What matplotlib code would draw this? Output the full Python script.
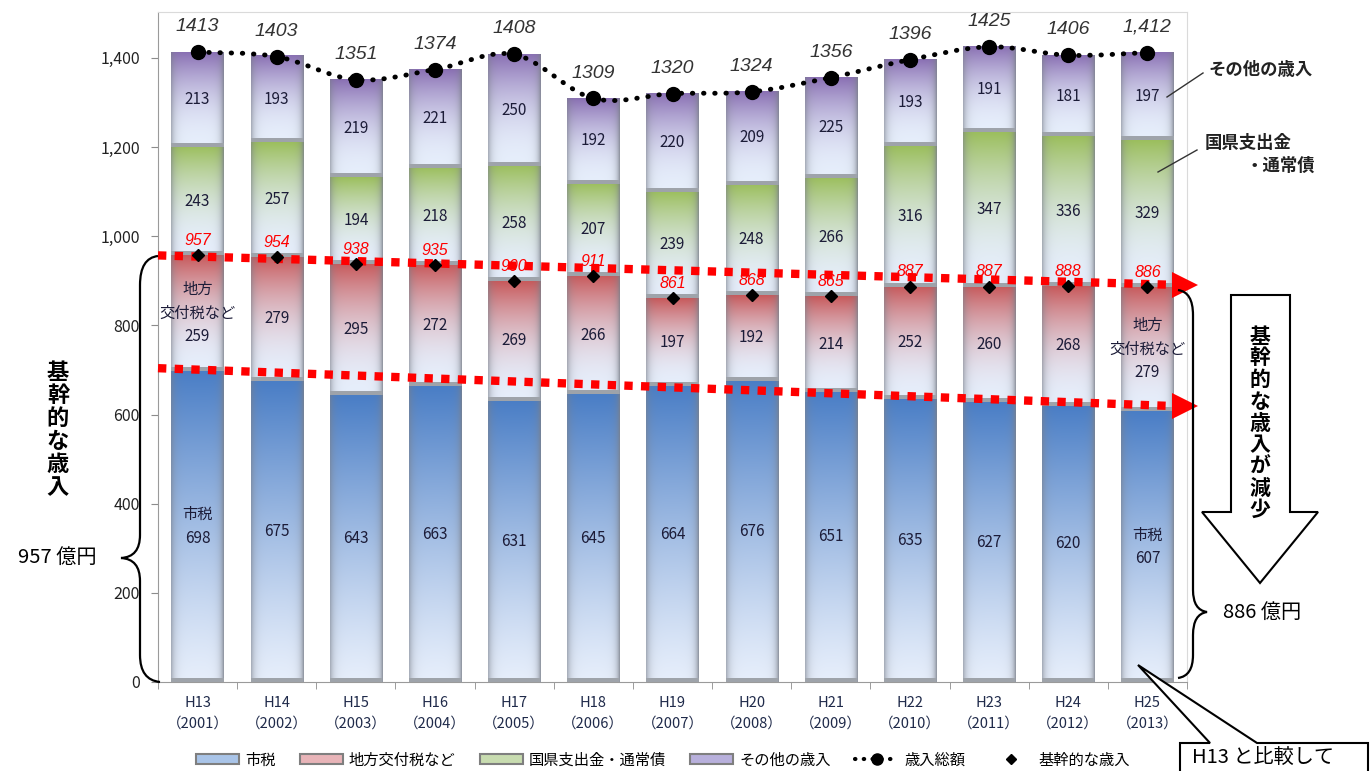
import numpy as np
import matplotlib
matplotlib.use('Agg')
import matplotlib.pyplot as plt
from matplotlib.path import Path
from matplotlib.patches import PathPatch, Polygon, Patch
from matplotlib.lines import Line2D
from matplotlib.colors import to_rgb

plt.rcParams['font.family'] = ['Noto Sans CJK JP', 'DejaVu Sans']

# 歳入の内訳（億円）
years = ['H13\n（2001）', 'H14\n（2002）', 'H15\n（2003）', 'H16\n（2004）', 'H17\n（2005）',
         'H18\n（2006）', 'H19\n（2007）', 'H20\n（2008）', 'H21\n（2009）', 'H22\n（2010）',
         'H23\n（2011）', 'H24\n（2012）', 'H25\n（2013）']
city_tax = [698, 675, 643, 663, 631, 645, 664, 676, 651, 635, 627, 620, 607]
local_alloc = [259, 279, 295, 272, 269, 266, 197, 192, 214, 252, 260, 268, 279]
subsidy_bonds = [243, 257, 194, 218, 258, 207, 239, 248, 266, 316, 347, 336, 329]
other_rev = [213, 193, 219, 221, 250, 192, 220, 209, 225, 193, 191, 181, 197]
total = [1413, 1403, 1351, 1374, 1408, 1309, 1320, 1324, 1356, 1396, 1425, 1406, 1412]
total_labels = ['1413', '1403', '1351', '1374', '1408', '1309', '1320', '1324', '1356',
                '1396', '1425', '1406', '1,412']
core = [957, 954, 938, 935, 900, 911, 861, 868, 865, 887, 887, 888, 886]

series = [city_tax, local_alloc, subsidy_bonds, other_rev]
top_colors = ['#4a7ec6', '#c85a5c', '#9cbf5e', '#8a70b4']
legend_colors = ['#a9c4e8', '#e8b4b8', '#c8dcb0', '#b8b0dc']
names = ['市税', '地方交付税など', '国県支出金・通常債', 'その他の歳入']

W, H = 1371, 771
fig = plt.figure(figsize=(W / 100, H / 100), dpi=100)
ax = fig.add_axes([158 / W, 1 - 682 / H, 1029 / W, 670 / H])


def fx(x):
    return x / W


def fy(y):
    return 1 - y / H


def seg_image(color, power):
    c = np.array(to_rgb(color))
    pale = np.array(to_rgb('#e6eefb'))
    t = np.linspace(0, 1, 90)[:, None, None]
    col = pale + (c - pale) * t ** power
    u = np.linspace(0, 1, 48)
    edge = 0.55 * np.exp(-u / 0.07) + 0.75 * np.exp(-(1 - u) / 0.06)
    edge = np.clip(edge, 0, 1)[None, :, None]
    grey = np.array([0.48, 0.50, 0.54])
    return col * (1 - edge) + grey * edge


x = np.arange(len(years))
bw = 0.66
bottom = np.zeros(len(years))
for k, (vals, c) in enumerate(zip(series, top_colors)):
    img = seg_image(c, 1.2 if k == 0 else 2.0)
    for i, v in enumerate(vals):
        b = bottom[i]
        ax.imshow(img, extent=[i - bw / 2, i + bw / 2, b, b + v], aspect='auto',
                  origin='lower', interpolation='bilinear', zorder=2)
        # bevel band at the foot of each segment
        ax.bar(i, 9, bottom=b, width=bw, color='#9ea3aa', zorder=3)
        mid = b + v / 2
        if k == 0 and i in (0, 12):
            txt = '市税\n' + str(v)
        elif k == 1 and i in (0, 12):
            txt = '地方\n交付税など\n' + str(v)
        else:
            txt = str(v)
        ax.text(i, mid, txt, ha='center', va='center', fontsize=11,
                color='#1c1c38', zorder=7, linespacing=1.5)
    bottom += np.array(vals)

# 基幹的な歳入の推移を示す赤い点線
for y0, y1 in [(core[0], core[-1] + 5), (city_tax[0] + 6, city_tax[-1] + 12)]:
    ax.plot([-0.5, 12.33], [y0, y1], color='#ff0000', lw=6, linestyle=(0, (1, 1)),
            zorder=4, clip_on=False)
    ax.plot([12.47], [y1 + (y1 - y0) * 0.01], marker='>', color='#ff0000', ms=19,
            mew=0, zorder=4, clip_on=False)

# 歳入総額：なめらかな点線
pts = np.column_stack([x, total]).astype(float)
verts = [tuple(pts[0])]
codes = [Path.MOVETO]
for i in range(len(pts) - 1):
    p0 = pts[max(i - 1, 0)]
    p1 = pts[i]
    p2 = pts[i + 1]
    p3 = pts[min(i + 2, len(pts) - 1)]
    verts += [tuple(p1 + (p2 - p0) / 6), tuple(p2 - (p3 - p1) / 6), tuple(p2)]
    codes += [Path.CURVE4] * 3
curve = PathPatch(Path(verts, codes), fill=False, edgecolor='black', lw=3.5,
                  linestyle=(0, (0.1, 2.2)), capstyle='round', zorder=5)
ax.add_patch(curve)
ax.plot(x, total, 'o', color='black', ms=10, zorder=6)
for i, (v, lab) in enumerate(zip(total, total_labels)):
    ax.text(i, v + 57, lab, ha='center', va='center', fontsize=14, style='italic',
            family='Liberation Sans', color='#333333', zorder=7)

ax.plot(x, core, 'D', color='black', ms=6, zorder=6)
for i, v in enumerate(core):
    ax.text(i, v + 33, str(v), ha='center', va='center', fontsize=11.5, style='italic',
            family='Liberation Sans', color='#ff0000', zorder=7)

ax.set_xlim(-0.5, 12.5)
ax.set_ylim(0, 1503)
ax.set_xticks(x)
ax.set_xticklabels(years, fontsize=10.5, color='#1f2a4a', linespacing=1.6)
ax.set_xticks(np.arange(-0.5, 13, 1), minor=True)
ax.tick_params(axis='x', which='major', length=0, pad=10)
ax.tick_params(axis='x', which='minor', length=5, color='#8c8c8c')
ax.set_yticks(range(0, 1401, 200))
ax.set_yticklabels([f'{v:,}' for v in range(0, 1401, 200)], fontsize=11.5, color='#222222')
ax.tick_params(axis='y', length=5, color='#8c8c8c', pad=8)
for s in ['left', 'bottom']:
    ax.spines[s].set_color('#9a9a9a')
for s in ['top', 'right']:
    ax.spines[s].set_color('#dadada')

# 凡例
handles = [Patch(facecolor=c, edgecolor='#7f7f7f', lw=1.5) for c in legend_colors]
handles.append(Line2D([], [], color='black', lw=3, linestyle=(0, (0.1, 2)),
                      dash_capstyle='round', marker='o', ms=8))
handles.append(Line2D([], [], color='black', lw=0, marker='D', ms=5))
fig.legend(handles, names + ['歳入総額', '基幹的な歳入'], loc='center',
           bbox_to_anchor=(fx(663), fy(760)), ncol=6, frameon=False, fontsize=11,
           handlelength=2.8, handleheight=0.6, columnspacing=1.6, handletextpad=0.4)

# 左右の波括弧
Q, L, M = Path.CURVE3, Path.LINETO, Path.MOVETO


def brace(pts_px, codes_):
    p = Path([(fx(a), fy(b)) for a, b in pts_px], codes_)
    fig.add_artist(PathPatch(p, fill=False, lw=1.6, edgecolor='black',
                             transform=fig.transFigure))


brace([(158, 256), (140, 258), (140, 285), (140, 535), (140, 557), (121, 558),
       (140, 559), (140, 581), (140, 655), (140, 680), (160, 682)],
      [M, Q, Q, L, Q, Q, Q, Q, L, Q, Q])
brace([(1178, 290), (1193, 292), (1193, 315), (1193, 590), (1193, 610), (1207, 612),
       (1193, 614), (1193, 635), (1193, 655), (1193, 676), (1178, 678)],
      [M, Q, Q, L, Q, Q, Q, Q, L, Q, Q])

fig.text(fx(58), fy(430), '\n'.join('基幹的な歳入'), ha='center', va='center',
         fontsize=16, fontweight='bold', linespacing=1.0)
fig.text(fx(57), fy(557), '957 億円', ha='center', va='center', fontsize=14.5)
fig.text(fx(1262), fy(612), '886 億円', ha='center', va='center', fontsize=14.5)

# 減少を示す白抜き矢印
arrow = Polygon([(fx(a), fy(b)) for a, b in
                 [(1231, 295), (1290, 295), (1290, 512), (1318, 512), (1260, 583),
                  (1202, 512), (1231, 512)]],
                closed=True, facecolor='white', edgecolor='black', lw=1.5,
                transform=fig.transFigure)
fig.add_artist(arrow)
fig.text(fx(1260), fy(423), '\n'.join('基幹的な歳入が減少'), ha='center', va='center',
         fontsize=15, fontweight='bold', linespacing=1.04)

# 系列名の引き出し線
fig.add_artist(Line2D([fx(1167), fx(1203)], [fy(97), fy(73)], color='#333333', lw=1))
fig.add_artist(Line2D([fx(1158), fx(1197)], [fy(172), fy(150)], color='#333333', lw=1))
fig.text(fx(1208), fy(70), 'その他の歳入', ha='left', va='center', fontsize=12.5,
         fontweight='bold', color='#222222')
fig.text(fx(1205), fy(143), '国県支出金', ha='left', va='center', fontsize=12.5,
         fontweight='bold', color='#222222')
fig.text(fx(1246), fy(166), '・通常債', ha='left', va='center', fontsize=12.5,
         fontweight='bold', color='#222222')

# 吹き出し
callout = Polygon([(fx(a), fy(b)) for a, b in
                   [(1180, 800), (1180, 743), (1210, 743), (1138, 665), (1257, 743),
                    (1368, 743), (1368, 800)]],
                  closed=True, facecolor='white', edgecolor='black', lw=1.5,
                  transform=fig.transFigure, zorder=10)
fig.add_artist(callout)
fig.text(fx(1192), fy(758), 'H13 と比較して', ha='left', va='center', fontsize=14.5,
         zorder=11)

fig.savefig('out.png', dpi=100)
